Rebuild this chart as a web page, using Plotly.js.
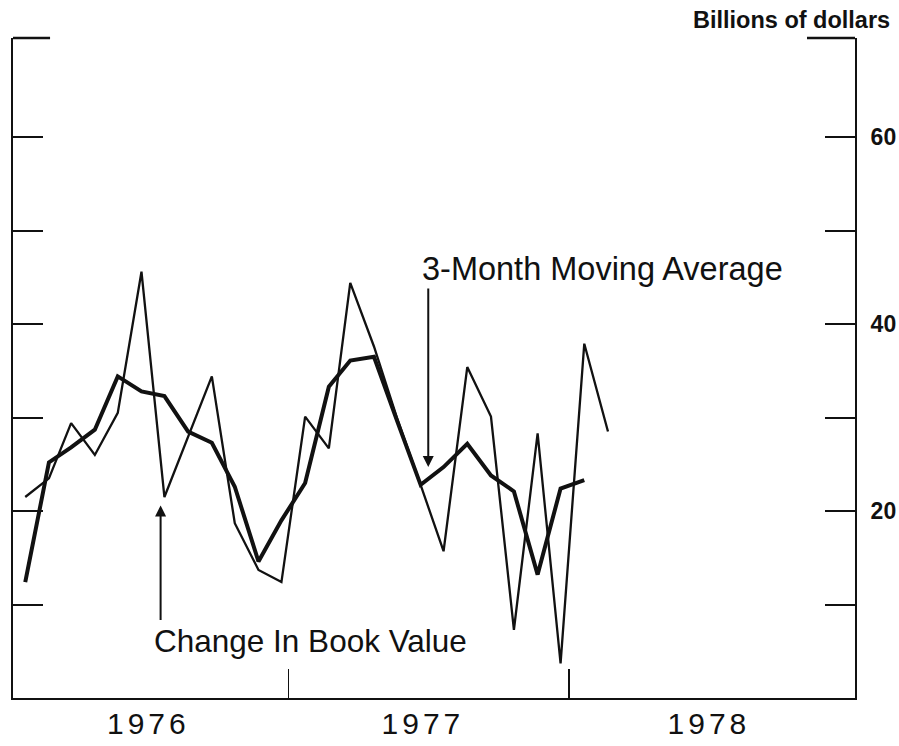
<!DOCTYPE html>
<html>
<head>
<meta charset="utf-8">
<script src="https://cdn.plot.ly/plotly-3.0.1.min.js"></script>
<style>
html,body{margin:0;padding:0;background:#fff;}
#chart{width:899px;height:746px;}
#chart .xtick text{letter-spacing:4px;}
</style>
</head>
<body>
<div id="chart"></div>
<script>
// Monthly dates, Jan 1976 - Feb 1978 (plotted mid-month)
const months = [
  '1976-01-15','1976-02-15','1976-03-15','1976-04-15','1976-05-15','1976-06-15',
  '1976-07-15','1976-08-15','1976-09-15','1976-10-15','1976-11-15','1976-12-15',
  '1977-01-15','1977-02-15','1977-03-15','1977-04-15','1977-05-15','1977-06-15',
  '1977-07-15','1977-08-15','1977-09-15','1977-10-15','1977-11-15','1977-12-15',
  '1978-01-15','1978-02-15'
];
// Change in book value (billions of dollars), monthly
const bookValue = [21.5, 23.5, 29.4, 26.0, 30.5, 45.6, 21.5, 28.0, 34.4, 18.7, 13.7, 12.4,
                   30.1, 26.7, 44.4, 37.6, 30.0, 22.8, 15.7, 35.4, 30.1, 7.3, 28.3, 3.7,
                   37.9, 28.5];
// 3-month moving average, Jan 1976 - Jan 1978
const movingAvg = [12.4, 25.2, 26.8, 28.7, 34.4, 32.8, 32.3, 28.5, 27.3, 22.6, 14.6, 19.0,
                   23.0, 33.3, 36.1, 36.5, 29.7, 22.8, 24.7, 27.2, 23.8, 22.1, 13.2, 22.4,
                   23.3];
// Axis labels
const yearLabels = ['1976', '1977', '1978'];
const yearLabelPos = ['1976-06-24', '1977-06-18', '1978-06-27'];
const yearBoundaries = ['1976-12-24', '1977-12-26'];
const yTickVals = [10, 20, 30, 40, 50, 60];
const yTickText = ['', '20', '', '40', '', '60'];

const ink = '#111111';

const traces = [
  {
    x: months, y: bookValue, type: 'scatter', mode: 'lines',
    line: {color: ink, width: 2.3}, hoverinfo: 'skip', showlegend: false
  },
  {
    x: months.slice(0, movingAvg.length), y: movingAvg, type: 'scatter', mode: 'lines',
    line: {color: ink, width: 4}, hoverinfo: 'skip', showlegend: false
  }
];

const layout = {
  width: 899, height: 746,
  margin: {l: 13, r: 44, t: 38, b: 48},
  paper_bgcolor: '#ffffff', plot_bgcolor: '#ffffff',
  showlegend: false,
  font: {family: 'Liberation Sans, Arial, sans-serif', color: ink},
  xaxis: {
    type: 'date',
    range: ['1975-12-30', '1979-01-04'],
    showgrid: false, zeroline: false,
    showline: true, linecolor: ink, linewidth: 2,
    tickmode: 'array', tickvals: yearLabelPos, ticktext: yearLabels,
    ticks: '', ticklabelstandoff: -2,
    tickfont: {family: 'Liberation Sans, Arial, sans-serif', size: 30, color: ink},
    minor: {tickmode: 'array', tickvals: yearBoundaries, ticks: 'inside',
            ticklen: 29, tickwidth: 1.5, tickcolor: ink, showgrid: false},
    fixedrange: true
  },
  yaxis: {
    side: 'right',
    range: [0, 70.6],
    showgrid: false, zeroline: false,
    showline: true, linecolor: ink, linewidth: 2, mirror: 'ticks',
    tickmode: 'array', tickvals: yTickVals, ticktext: yTickText,
    ticks: 'inside', ticklen: 30, tickwidth: 2, tickcolor: ink,
    ticklabelstandoff: 9,
    tickfont: {family: 'Liberation Sans, Arial, sans-serif', size: 23, color: ink, weight: 'bold'},
    fixedrange: true
  },
  shapes: [
    {type: 'line', xref: 'paper', yref: 'paper', x0: 0, x1: 0.044, y0: 1, y1: 1,
     line: {color: ink, width: 2.5}},
    {type: 'line', xref: 'paper', yref: 'paper', x0: 0.943, x1: 1, y0: 1, y1: 1,
     line: {color: ink, width: 2.5}}
  ],
  annotations: [
    {text: '<b>Billions of dollars</b>', xref: 'paper', yref: 'paper',
     x: 1.0445, y: 1.005, xanchor: 'right', yanchor: 'bottom', showarrow: false,
     font: {size: 23.5, color: ink}},
    {text: '3-Month Moving Average', xref: 'x', yref: 'y',
     x: '1977-06-14', y: 45.9, xanchor: 'left', yanchor: 'middle', showarrow: false,
     font: {size: 32.5, color: ink}},
    {text: 'Change In Book Value', xref: 'x', yref: 'y',
     x: '1976-06-29', y: 6.1, xanchor: 'left', yanchor: 'middle', showarrow: false,
     font: {size: 31.5, color: ink}},
    {text: '', xref: 'x', yref: 'y', x: '1977-06-25', y: 24.7,
     showarrow: true, arrowhead: 2, arrowsize: 1.1, arrowwidth: 2, arrowcolor: ink,
     ax: 0, ay: -180},
    {text: '', xref: 'x', yref: 'y', x: '1976-07-10', y: 20.6,
     showarrow: true, arrowhead: 2, arrowsize: 1.1, arrowwidth: 2, arrowcolor: ink,
     ax: 0, ay: 116}
  ]
};

Plotly.newPlot('chart', traces, layout, {staticPlot: true, displayModeBar: false});
</script>
</body>
</html>
